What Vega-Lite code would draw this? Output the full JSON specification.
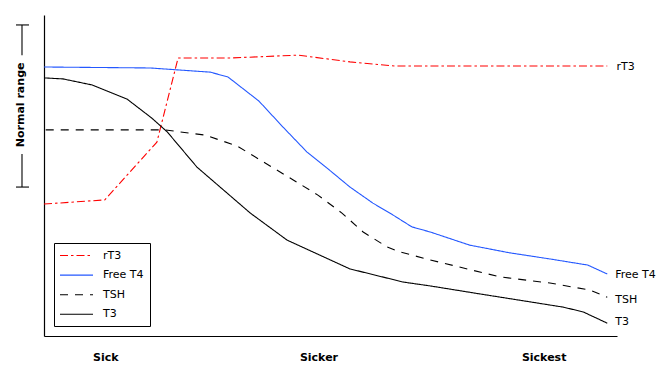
{
  "$schema": "https://vega.github.io/schema/vega-lite/v6.json",
  "width": 573,
  "height": 321,
  "autosize": {"type": "none"},
  "padding": {"left": 44, "top": 15, "right": 50, "bottom": 44},
  "background": "white",
  "config": {
    "font": "DejaVu Sans",
    "view": {"stroke": null},
    "axis": {"grid": false, "ticks": false, "domainColor": "black", "domainWidth": 1.2, "title": null},
    "legend": {
      "title": null,
      "orient": "none",
      "legendX": 10,
      "legendY": 228,
      "strokeColor": "black",
      "fillColor": "white",
      "padding": 6,
      "symbolType": "M-3,0H3",
      "symbolSize": 121,
      "symbolStrokeWidth": 1.1,
      "symbolOffset": 10,
      "labelFontSize": 11,
      "labelColor": "black",
      "labelOffset": 20,
      "rowPadding": 7.6
    }
  },
  "datasets": {
    "curves": [
      {"series": "rT3", "x": 0, "y": 41.1},
      {"series": "rT3", "x": 10.6, "y": 42.4},
      {"series": "rT3", "x": 19.7, "y": 60.4},
      {"series": "rT3", "x": 23.4, "y": 86.6},
      {"series": "rT3", "x": 32.5, "y": 86.6},
      {"series": "rT3", "x": 44.3, "y": 87.5},
      {"series": "rT3", "x": 53.4, "y": 85.4},
      {"series": "rT3", "x": 61.3, "y": 84.1},
      {"series": "rT3", "x": 98.3, "y": 84.1},
      {"series": "Free T4", "x": 0, "y": 83.8},
      {"series": "Free T4", "x": 18.5, "y": 83.5},
      {"series": "Free T4", "x": 29.0, "y": 82.2},
      {"series": "Free T4", "x": 32.1, "y": 80.7},
      {"series": "Free T4", "x": 37.5, "y": 73.2},
      {"series": "Free T4", "x": 41.7, "y": 65.1},
      {"series": "Free T4", "x": 45.9, "y": 57.3},
      {"series": "Free T4", "x": 49.4, "y": 52.3},
      {"series": "Free T4", "x": 53.4, "y": 46.4},
      {"series": "Free T4", "x": 57.4, "y": 41.4},
      {"series": "Free T4", "x": 60.9, "y": 37.7},
      {"series": "Free T4", "x": 64.2, "y": 34.0},
      {"series": "Free T4", "x": 67.4, "y": 32.4},
      {"series": "Free T4", "x": 74.3, "y": 28.3},
      {"series": "Free T4", "x": 81.3, "y": 25.9},
      {"series": "Free T4", "x": 88.3, "y": 24.0},
      {"series": "Free T4", "x": 94.9, "y": 22.1},
      {"series": "Free T4", "x": 98.3, "y": 19.3},
      {"series": "TSH", "x": 0.3, "y": 64.2},
      {"series": "TSH", "x": 21.1, "y": 64.2},
      {"series": "TSH", "x": 28.1, "y": 62.6},
      {"series": "TSH", "x": 33.7, "y": 59.2},
      {"series": "TSH", "x": 38.6, "y": 53.9},
      {"series": "TSH", "x": 43.5, "y": 48.6},
      {"series": "TSH", "x": 47.8, "y": 43.9},
      {"series": "TSH", "x": 52.0, "y": 38.3},
      {"series": "TSH", "x": 55.7, "y": 32.4},
      {"series": "TSH", "x": 59.9, "y": 27.7},
      {"series": "TSH", "x": 62.1, "y": 26.2},
      {"series": "TSH", "x": 67.4, "y": 23.7},
      {"series": "TSH", "x": 79.6, "y": 18.4},
      {"series": "TSH", "x": 88.3, "y": 16.5},
      {"series": "TSH", "x": 95.3, "y": 14.3},
      {"series": "TSH", "x": 98.3, "y": 12.1},
      {"series": "T3", "x": 0, "y": 80.4},
      {"series": "T3", "x": 3.3, "y": 80.1},
      {"series": "T3", "x": 8.4, "y": 78.2},
      {"series": "T3", "x": 14.5, "y": 73.8},
      {"series": "T3", "x": 18.8, "y": 67.9},
      {"series": "T3", "x": 21.5, "y": 63.6},
      {"series": "T3", "x": 26.7, "y": 52.6},
      {"series": "T3", "x": 36.0, "y": 38.3},
      {"series": "T3", "x": 42.4, "y": 29.9},
      {"series": "T3", "x": 53.4, "y": 20.9},
      {"series": "T3", "x": 62.7, "y": 16.8},
      {"series": "T3", "x": 67.4, "y": 15.6},
      {"series": "T3", "x": 76.1, "y": 13.1},
      {"series": "T3", "x": 90.6, "y": 9.0},
      {"series": "T3", "x": 94.1, "y": 7.5},
      {"series": "T3", "x": 98.3, "y": 4.0}
    ],
    "endLabels": [
      {"label": "rT3", "x": 99.9, "y": 83.8},
      {"label": "Free T4", "x": 99.7, "y": 19.0},
      {"label": "TSH", "x": 99.7, "y": 11.2},
      {"label": "T3", "x": 99.7, "y": 4.4}
    ],
    "bracket": [
      {"part": "top tick", "x": -4.89, "x2": -2.62, "y": 96.9, "y2": 96.9},
      {"part": "bottom tick", "x": -4.89, "x2": -2.62, "y": 46.4, "y2": 46.4},
      {"part": "upper stem", "x": -3.84, "x2": -3.84, "y": 96.9, "y2": 87.5},
      {"part": "lower stem", "x": -3.84, "x2": -3.84, "y": 56.7, "y2": 46.4}
    ],
    "bracketLabel": [
      {"label": "Normal range", "x": -3.93, "y": 72.0}
    ]
  },
  "layer": [
    {
      "data": {"name": "curves"},
      "mark": {"type": "line", "strokeWidth": 1.1},
      "encoding": {
        "x": {
          "field": "x", "type": "quantitative",
          "scale": {"domain": [0, 100], "nice": false, "zero": false},
          "axis": {
            "values": [10.7, 47.9, 87.2],
            "labelExpr": "datum.value < 20 ? 'Sick' : datum.value < 60 ? 'Sicker' : 'Sickest'",
            "labelFontWeight": "bold",
            "labelFontSize": 11,
            "labelColor": "black",
            "labelPadding": 15,
            "labelFlush": false,
            "labelOverlap": false
          }
        },
        "y": {
          "field": "y", "type": "quantitative",
          "scale": {"domain": [0, 100], "nice": false, "zero": false},
          "axis": {"labels": false}
        },
        "color": {
          "field": "series", "type": "nominal",
          "scale": {"domain": ["rT3", "Free T4", "TSH", "T3"], "range": ["#ff0000", "#2458ff", "black", "black"]}
        },
        "strokeDash": {
          "field": "series", "type": "nominal",
          "scale": {"domain": ["rT3", "Free T4", "TSH", "T3"], "range": [[8, 3, 2.5, 3], [1, 0], [8, 7], [1, 0]]}
        }
      }
    },
    {
      "data": {"name": "endLabels"},
      "mark": {"type": "text", "align": "left", "baseline": "middle", "fontSize": 11, "color": "black"},
      "encoding": {
        "x": {"field": "x", "type": "quantitative", "scale": {"domain": [0, 100], "nice": false, "zero": false}},
        "y": {"field": "y", "type": "quantitative", "scale": {"domain": [0, 100], "nice": false, "zero": false}},
        "text": {"field": "label"}
      }
    },
    {
      "data": {"name": "bracket"},
      "mark": {"type": "rule", "color": "black", "strokeWidth": 1.1},
      "encoding": {
        "x": {"field": "x", "type": "quantitative", "scale": {"domain": [0, 100], "nice": false, "zero": false}},
        "x2": {"field": "x2"},
        "y": {"field": "y", "type": "quantitative", "scale": {"domain": [0, 100], "nice": false, "zero": false}},
        "y2": {"field": "y2"}
      }
    },
    {
      "data": {"name": "bracketLabel"},
      "mark": {"type": "text", "angle": 270, "align": "center", "baseline": "middle", "fontSize": 11, "fontWeight": "bold", "color": "black"},
      "encoding": {
        "x": {"field": "x", "type": "quantitative", "scale": {"domain": [0, 100], "nice": false, "zero": false}},
        "y": {"field": "y", "type": "quantitative", "scale": {"domain": [0, 100], "nice": false, "zero": false}},
        "text": {"field": "label"}
      }
    }
  ]
}
